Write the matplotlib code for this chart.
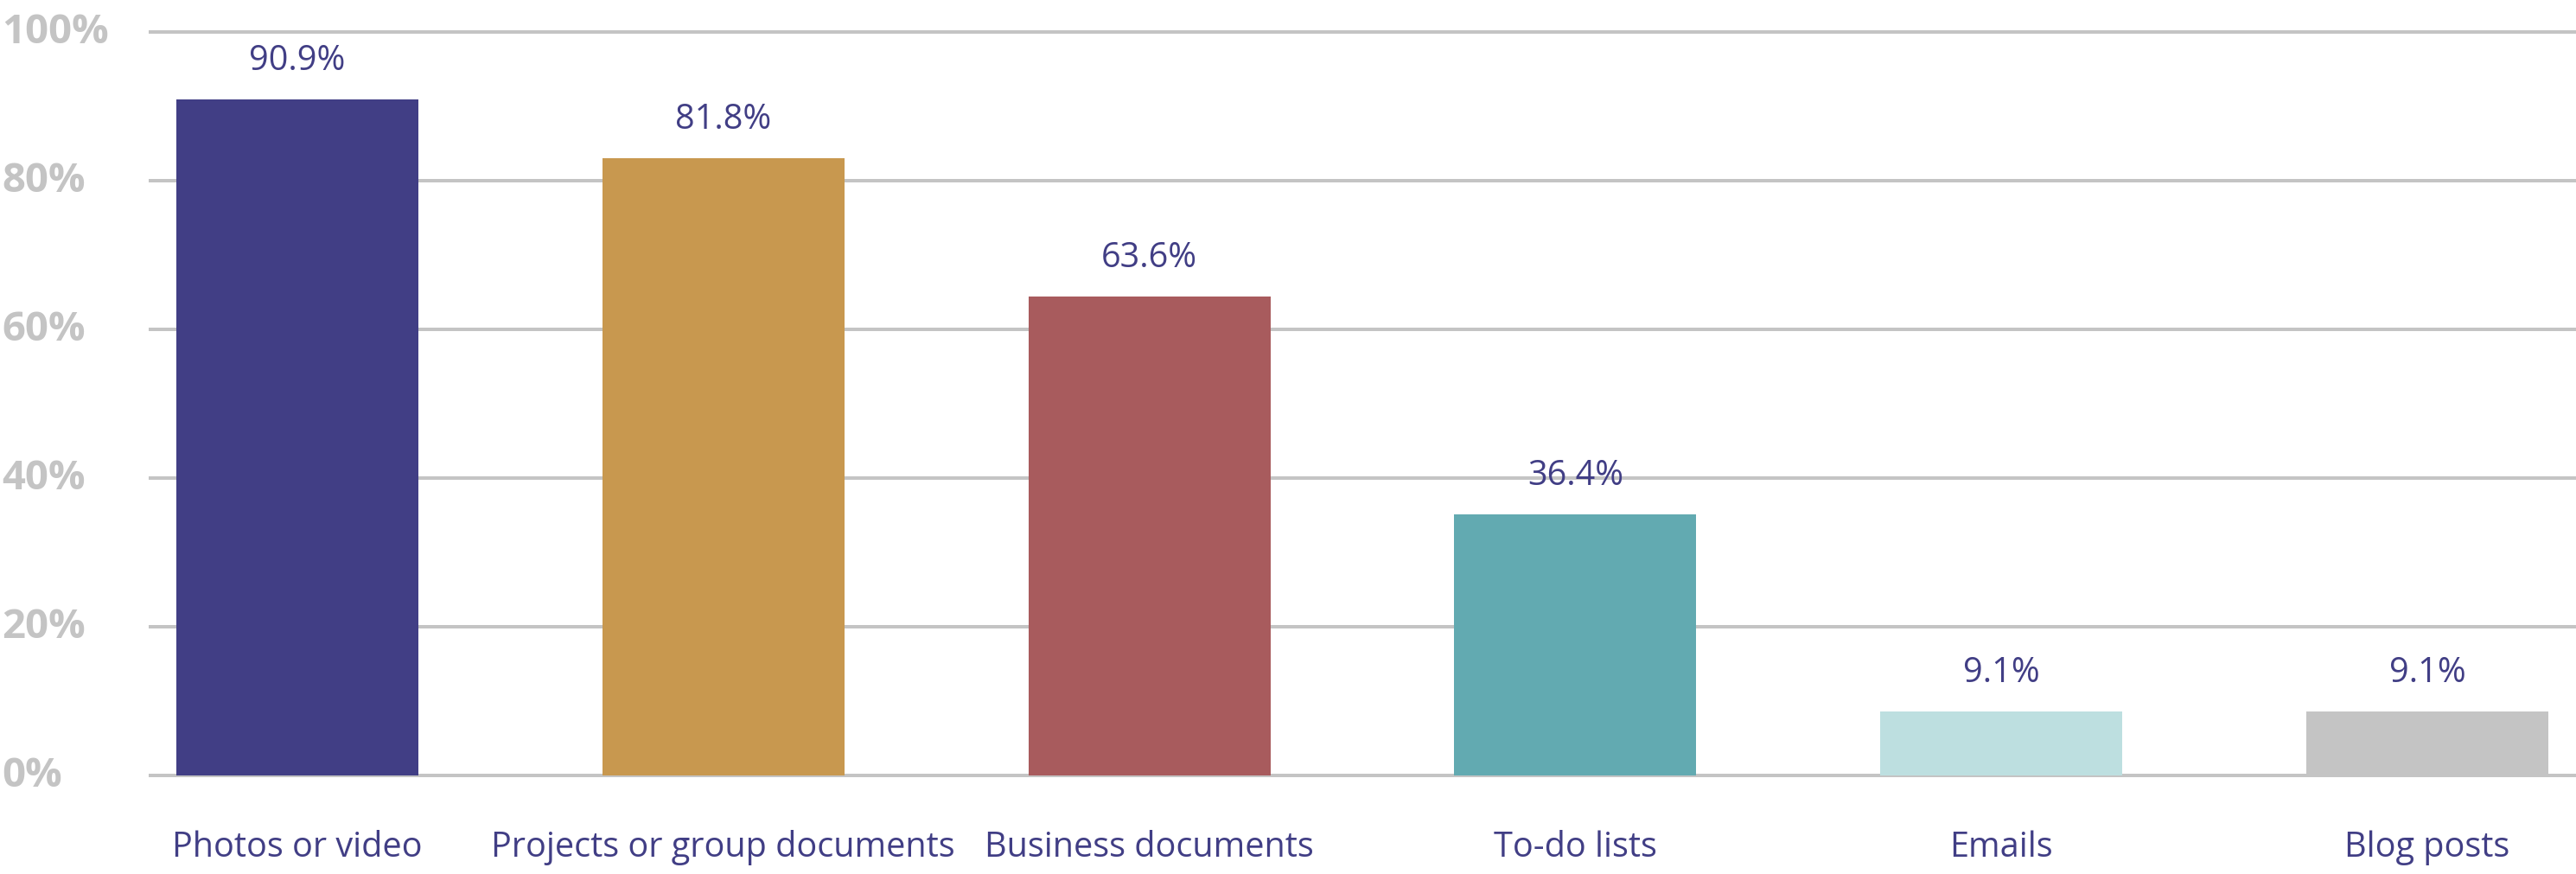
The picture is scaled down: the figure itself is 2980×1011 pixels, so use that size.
import matplotlib
matplotlib.use("Agg")
import matplotlib.pyplot as plt
import numpy as np

# ---- data ----
categories = ["Photos or video", "Projects or group documents", "Business documents",
              "To-do lists", "Emails", "Blog posts"]
bar_values = [90.9, 83.0, 64.4, 35.1, 8.6, 8.6]        # bar heights as drawn
value_labels = ["90.9%", "81.8%", "63.6%", "36.4%", "9.1%", "9.1%"]
y_ticks = [0, 20, 40, 60, 80, 100]
y_tick_labels = ["0%", "20%", "40%", "60%", "80%", "100%"]

# ---- style ----
bar_colors = ["#413e85", "#c8984f", "#a85b5d", "#62aab1", "#bddfe0", "#c4c4c4"]
text_color = "#413e85"
grid_color = "#c4c4c4"
DPI = 100
W, H = 2980, 1012

fig = plt.figure(figsize=(W / DPI, H / DPI), dpi=DPI)
ax_left = 172 / W
ax_bottom = (H - 906.3) / H
ax_top = (H - 29.1) / H
ax = fig.add_axes([ax_left, ax_bottom, 1 - ax_left, ax_top - ax_bottom])

x = np.arange(len(categories))
bars = ax.bar(x, bar_values, width=0.568, color=bar_colors, zorder=3)

ax.set_xlim(-0.349, len(categories) - 1 + 0.349)
ax.set_ylim(-1, 101)

for yv in y_ticks:
    ax.axhline(yv, color=grid_color, linewidth=4 * 72 / DPI, zorder=1)

ax.set_yticks(y_ticks)
ax.set_yticklabels(y_tick_labels, fontfamily="Open Sans", fontweight="bold",
                   fontsize=34, color=grid_color, ha="left", va="center")
ax.tick_params(axis="y", length=0, pad=170 * 72 / DPI)

ax.set_xticks(x)
ax.set_xticklabels(categories, fontfamily="Open Sans", fontsize=28.5, color=text_color)
ax.tick_params(axis="x", length=0, pad=54 * 72 / DPI)

for s in ax.spines.values():
    s.set_visible(False)

for rect, lab in zip(bars, value_labels):
    ax.annotate(lab, (rect.get_x() + rect.get_width() / 2, rect.get_height()),
                xytext=(0, 45 * 72 / DPI), textcoords="offset points",
                ha="center", va="center", fontfamily="Open Sans",
                fontsize=28.5, color=text_color, zorder=4)

fig.savefig("out.png", dpi=DPI)
